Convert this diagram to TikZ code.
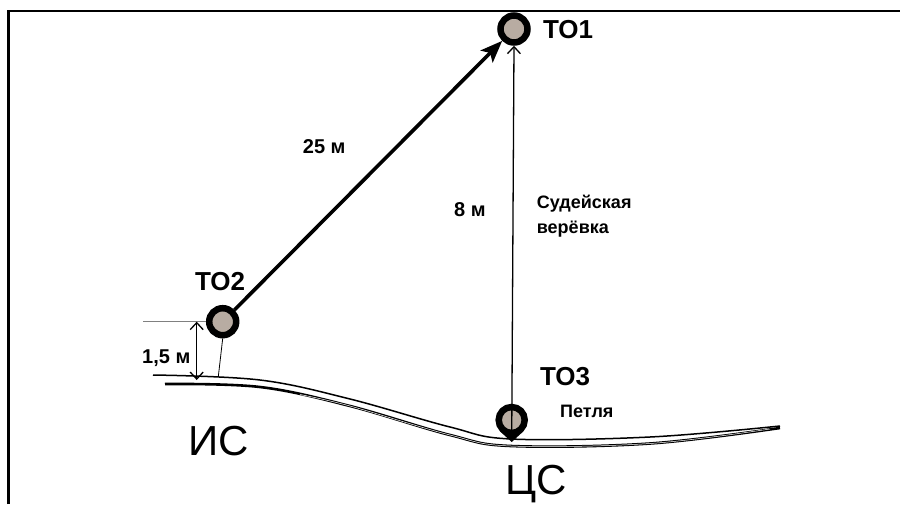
\documentclass[tikz,border=0pt]{standalone}
\usepackage{fontspec}
\setmainfont{Liberation Sans}
\usetikzlibrary{arrows.meta}
\definecolor{tofill}{RGB}{184,172,162}
\begin{document}
\begin{tikzpicture}[x=1pt,y=-1pt,
  tp/.style={circle,draw=black,line width=6.5pt,fill=tofill,minimum size=27pt,inner sep=0pt},
  lbl/.style={font=\bfseries\fontsize{20}{24}\selectfont,inner sep=0pt,anchor=base west},
  bigl/.style={font=\bfseries\fontsize{26}{30}\selectfont,inner sep=0pt,anchor=base west},
  hugel/.style={font=\fontsize{42}{50}\selectfont,inner sep=0pt,anchor=base west},
  smalll/.style={font=\bfseries\fontsize{18}{22}\selectfont,inner sep=0pt,anchor=base west},
  barb/.tip={Straight Barb[length=7pt,width=13pt,line width=1.3pt]}
]
\useasboundingbox (0,0) rectangle (900,504);
% frame
\draw[line width=2.5pt] (8.5,504) -- (8.5,11) -- (900,11);
% ground
\draw[line width=1.5pt] plot[smooth,tension=0.6] coordinates {(153,375) (260,380) (350,399) (450,427) (511,439) (650,437) (780,426)};
\draw[line width=2.6pt] plot[smooth,tension=0.6] coordinates {(165,384) (260,387) (350,406) (450,435) (511,446) (650,443.5) (780,428)};
\draw[white,line width=0.5pt] plot[smooth,tension=0.6] coordinates {(300,394.5) (350,406) (450,435) (511,446) (650,443.5) (770,429)};
% TO3 teardrop tip
\fill[black] (500.2,431.5) -- (511.7,442) -- (523.2,431.5) -- cycle;
% points
\node[tp] (to1) at (514,29) {};
\node[tp] (to2) at (222.7,321.7) {};
\node[tp,minimum size=26pt] (to3) at (511.7,420) {};
\coordinate (tip) at (511.7,441);
% connectors
\draw[line width=3.6pt,-{Stealth[length=22pt,width=17pt,inset=5pt]}] (to2) -- (to1);
\draw[line width=1.3pt,-{barb}] (tip) -- (to1.south);
% dimension
\coordinate (d1) at (143,321.7);
\draw[gray,line width=1.2pt] (d1) -- (to2.west);
\coordinate (dtop) at (196.7,321.7);
\coordinate (dbot) at (196.7,380);
\draw[line width=1.3pt,{barb}-{barb}] (dtop) -- (dbot);
\coordinate (foot) at (218.3,376.7);
\draw[line width=0.8pt] (to2.south) -- (foot);
% labels
\node[bigl] (l1) at (543,38) {ТО1};
\node[bigl] (l2) at (195,290) {ТО2};
\node[bigl] (l3) at (540,385) {ТО3};
\node[smalll] (lp) at (560,417) {Петля};
\node[lbl] (l25) at (302.7,153) {25 м};
\node[lbl] (l8) at (454,216) {8 м};
\node[lbl] (l15) at (142,363) {1,5 м};
\node[smalll] (ls1) at (536.7,208) {Судейская};
\node[smalll] (ls2) at (536.7,233) {верёвка};
\node[hugel] (lis) at (188,455) {ИС};
\node[hugel] (lcs) at (505,494) {ЦС};
\end{tikzpicture}
\end{document}
